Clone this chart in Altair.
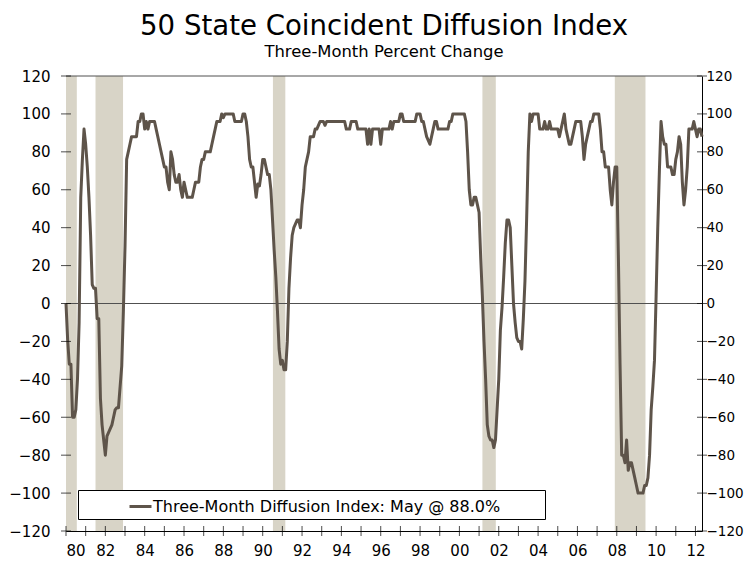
import altair as alt
import pandas as pd

# ---------------- data (monthly, Jan 1980 - May 2012) ----------------
v1980 = [0, -19, -32, -32, -60, -60, -56, -40, -10, 56, 76, 92]
v1981 = [84, 72, 56, 36, 10, 8, 8, -8, -8, -50, -64, -72]
v1982 = [-80, -70, -68, -66, -64, -60, -56, -55, -55, -44, -33, -4]
v1983 = [30, 76, 80, 84, 88, 88, 88, 88, 96, 96, 100, 100]
v1984 = [92, 96, 92, 96, 96, 96, 96, 92, 88, 84, 80, 76]
v1985 = [72, 72, 64, 60, 80, 76, 68, 64, 64, 68, 60, 56]
v1986 = [64, 60, 56, 56, 56, 56, 60, 64, 64, 64, 72, 76]
v1987 = [76, 80, 80, 80, 80, 84, 88, 92, 96, 96, 96, 100]
v1988 = [98, 100, 100, 100, 100, 100, 100, 96, 96, 96, 96, 96]
v1989 = [100, 100, 96, 88, 76, 72, 72, 64, 56, 63, 62, 68]
v1990 = [76, 76, 72, 68, 68, 60, 44, 28, 14, -4, -24, -32]
v1991 = [-30, -35, -35, -20, 8, 24, 36, 40, 42, 44, 44, 40]
v1992 = [52, 60, 72, 76, 80, 88, 88, 88, 92, 92, 94, 96]
v1993 = [96, 96, 94, 96, 96, 96, 96, 96, 96, 96, 96, 96]
v1994 = [96, 96, 96, 92, 92, 92, 96, 96, 96, 96, 92, 92]
v1995 = [92, 92, 92, 92, 84, 92, 84, 92, 92, 92, 92, 92]
v1996 = [84, 92, 92, 92, 92, 92, 96, 92, 96, 96, 96, 96]
v1997 = [100, 100, 96, 96, 96, 96, 96, 96, 96, 96, 100, 100]
v1998 = [100, 96, 96, 92, 88, 86, 84, 88, 92, 96, 96, 92]
v1999 = [92, 92, 92, 92, 92, 92, 96, 96, 100, 100, 100, 100]
v2000 = [100, 100, 100, 100, 96, 80, 60, 52, 52, 56, 56, 52]
v2001 = [48, 24, 4, -20, -40, -64, -70, -72, -72, -76, -72, -56]
v2002 = [-40, -14, -2, 14, 32, 44, 44, 40, 20, 0, -10, -18]
v2003 = [-20, -20, -24, -8, 12, 44, 80, 100, 96, 100, 100, 100]
v2004 = [100, 92, 92, 92, 96, 92, 92, 96, 92, 92, 92, 92]
v2005 = [92, 88, 92, 96, 100, 92, 88, 84, 84, 88, 92, 96]
v2006 = [96, 96, 96, 88, 76, 84, 88, 92, 96, 96, 100, 100]
v2007 = [100, 100, 92, 80, 80, 72, 72, 72, 60, 52, 64, 72]
v2008 = [72, 24, -32, -80, -80, -84, -72, -88, -84, -84, -88, -92]
v2009 = [-96, -100, -100, -100, -100, -96, -96, -92, -80, -56, -44, -30]
v2010 = [4, 40, 70, 96, 88, 84, 84, 72, 72, 72, 68, 68]
v2011 = [76, 80, 88, 84, 64, 52, 60, 72, 92, 92, 92, 96]
v2012 = [92, 88, 92, 92, 88]

start_year = 1980
series_name = "Three-Month Diffusion Index: May @ 88.0%"

# recession shading (decimal years)
rec_start = [1980.0, 1981.5, 1990.52, 2001.17, 2007.9]
rec_end = [1980.55, 1982.9, 1991.15, 2001.85, 2009.46]

x_domain = [1980, 2012.333]
y_domain = [-120, 120]
y_ticks = [-120, -100, -80, -60, -40, -20, 0, 20, 40, 60, 80, 100, 120]
x_labels = list(range(1980, 2013, 2))
x_ticks = list(range(1980, 2013))
ref_lines = [0, 120]

# ---------------- build tables ----------------
values = (v1980 + v1981 + v1982 + v1983 + v1984 + v1985 + v1986 + v1987 + v1988 +
          v1989 + v1990 + v1991 + v1992 + v1993 + v1994 + v1995 + v1996 + v1997 +
          v1998 + v1999 + v2000 + v2001 + v2002 + v2003 + v2004 + v2005 + v2006 +
          v2007 + v2008 + v2009 + v2010 + v2011 + v2012)
df = pd.DataFrame({
    "year": [start_year + i / 12 for i in range(len(values))],
    "value": values,
    "series": series_name,
})
rec = pd.DataFrame({"start": rec_start, "end": rec_end})
ytk = pd.DataFrame({"v": y_ticks})
xtk = pd.DataFrame({"yr": x_ticks})
refs = pd.DataFrame({"v": ref_lines})

LINE = "#5E544A"
SHADE = "#D8D4C7"
FONT = "DejaVu Sans"

xs = alt.Scale(domain=x_domain, nice=False, zero=False)
ys = alt.Scale(domain=y_domain, nice=False, zero=False)

x_axis = alt.Axis(
    orient="bottom", values=x_labels,
    labelExpr="(datum.value % 100 < 10 ? '0' : '') + (datum.value % 100)",
    title=None, grid=False, ticks=False, tickSize=0, labelPadding=12,
    domainColor="black", labelColor="black", labelFont=FONT, labelFontSize=15,
)
y_axis_left = alt.Axis(
    orient="left", values=y_ticks, title=None, grid=False, ticks=False, tickSize=0,
    labelPadding=16, domainColor="black", labelColor="black",
    labelFont=FONT, labelFontSize=15,
)
y_axis_right = alt.Axis(
    orient="right", values=y_ticks, title=None, grid=False, ticks=False, tickSize=0,
    labelPadding=4, domainColor="black", labelColor="black",
    labelFont=FONT, labelFontSize=13.5,
)

shade = alt.Chart(rec).mark_rect(color=SHADE).encode(
    x=alt.X("start:Q", scale=xs, axis=None),
    x2="end:Q",
    y=alt.datum(-120, scale=ys, axis=None),
    y2=alt.datum(120),
)

rules = alt.Chart(refs).mark_rule(color="#505050", strokeWidth=1).encode(
    y=alt.Y("v:Q", scale=ys, axis=None)
)

# trailing non-breaking spaces (kept by a final zero-width char) widen the legend frame
pad_tail = "\u00a0" * 8 + "\u200b"
line = alt.Chart(df).mark_line(strokeWidth=3, strokeJoin="round").encode(
    x=alt.X("year:Q", scale=xs, axis=x_axis),
    y=alt.Y("value:Q", scale=ys, axis=y_axis_left),
    color=alt.Color(
        "series:N",
        scale=alt.Scale(range=[LINE]),
        legend=alt.Legend(
            title=None, orient="none", legendX=12, legendY=414,
            direction="horizontal", symbolType="stroke", symbolSize=484,
            symbolStrokeWidth=3, symbolOffset=46, labelOffset=0,
            labelFont=FONT, labelFontSize=16, labelColor="black", labelLimit=800,
            strokeColor="black", fillColor="white", padding=4,
            labelExpr="datum.label + '" + pad_tail + "'",
        ),
    ),
)

ticks_left = alt.Chart(ytk).mark_tick(orient="horizontal", size=10, thickness=1, color="black").encode(
    x=alt.datum(x_domain[0], scale=xs, axis=None),
    y=alt.Y("v:Q", scale=ys, axis=None),
)
ticks_right = alt.Chart(ytk).mark_tick(orient="horizontal", size=10, thickness=1, color="black").encode(
    x=alt.datum(x_domain[1], scale=xs, axis=None),
    y=alt.Y("v:Q", scale=ys, axis=y_axis_right),
)
ticks_bottom = alt.Chart(xtk).mark_tick(orient="vertical", size=10, thickness=1, color="black").encode(
    x=alt.X("yr:Q", scale=xs, axis=None),
    y=alt.datum(-120, scale=ys, axis=None),
)

chart = alt.layer(shade, rules, line, ticks_left, ticks_right, ticks_bottom).resolve_scale(
    y="shared", x="shared"
).resolve_axis(y="independent", x="independent").properties(
    width=636,
    height=455,
    autosize=alt.AutoSizeParams(type="none"),
    padding={"left": 58, "top": 68, "right": 42, "bottom": 30},
    title=alt.Title(
        "50 State Coincident Diffusion Index",
        subtitle="Three-Month Percent Change",
        font=FONT, fontSize=27.6, fontWeight="normal", color="black",
        subtitleFont=FONT, subtitleFontSize=16.4, subtitleColor="black",
        anchor="middle", frame="group", offset=9, subtitlePadding=3,
    ),
).configure_view(strokeWidth=0)

chart.save("out.html", embed_options={"renderer": "svg", "actions": False})
